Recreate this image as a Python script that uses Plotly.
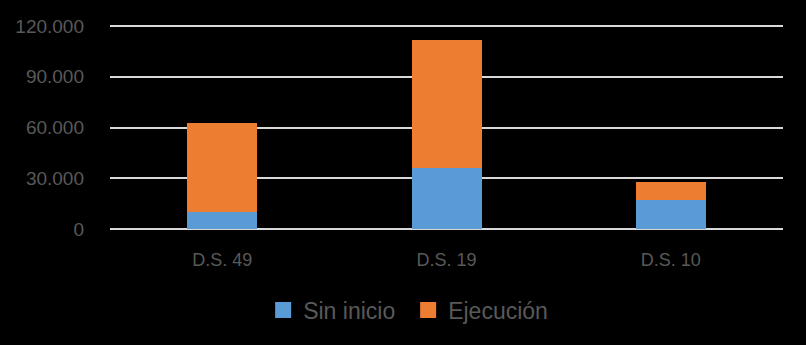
import plotly.graph_objects as go

categories = ["D.S. 49", "D.S. 19", "D.S. 10"]
sin_inicio = [10200, 36200, 17100]
ejecucion = [52300, 75500, 10700]
y_tickvals = [0, 30000, 60000, 90000, 120000]
y_ticktext = ["0", "30.000", "60.000", "90.000", "120.000"]

FONT = "Liberation Sans Narrow, Arial Narrow, Liberation Sans, Arial, sans-serif"
TEXT = "#595959"
BLUE = "#5b9bd5"
ORANGE = "#ed7d31"

fig = go.Figure()
fig.add_trace(go.Bar(x=categories, y=sin_inicio, name="Sin inicio", marker_color=BLUE,
                     marker_line_width=0, showlegend=False, legendgroup="a"))
fig.add_trace(go.Bar(x=categories, y=ejecucion, name="Ejecución", marker_color=ORANGE,
                     marker_line_width=0, showlegend=False, legendgroup="b"))
# legend entries with larger square swatches
fig.add_trace(go.Scatter(x=[None], y=[None], mode="markers", name="Sin inicio", legendgroup="a",
                         marker=dict(symbol="square", size=16, color=BLUE)))
fig.add_trace(go.Scatter(x=[None], y=[None], mode="markers", name="Ejecución", legendgroup="b",
                         marker=dict(symbol="square", size=16, color=ORANGE)))

fig.update_layout(
    barmode="stack",
    bargap=0.688,
    width=806, height=345,
    margin=dict(l=110, r=23, t=25, b=115),
    paper_bgcolor="black", plot_bgcolor="black",
    font=dict(family=FONT, color=TEXT, size=19),
    showlegend=True,
    legend=dict(orientation="h", x=0.443, xanchor="center", y=-0.39, yanchor="middle",
                traceorder="normal", entrywidth=100, entrywidthmode="pixels",
                font=dict(size=23, color=TEXT), bgcolor="rgba(0,0,0,0)"),
    xaxis=dict(showgrid=False, showline=False, zeroline=False, ticks="",
               ticklabelstandoff=17, automargin=False,
               tickfont=dict(size=18, color=TEXT)),
    yaxis=dict(range=[-600, 120600], tickvals=y_tickvals, ticktext=y_ticktext,
               showgrid=True, gridcolor="#d9d9d9", gridwidth=2, zeroline=False,
               showline=False, ticks="", ticklabelstandoff=25, automargin=False,
               tickfont=dict(size=19, color=TEXT)),
)

fig.write_html("out.html")
